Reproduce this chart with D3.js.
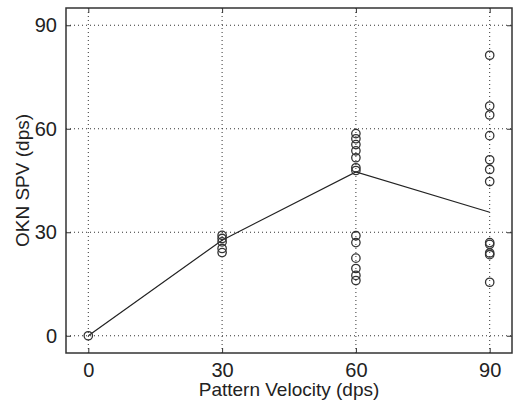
<!DOCTYPE html>
<html>
<head>
<meta charset="utf-8">
<script src="https://cdn.jsdelivr.net/npm/d3@7"></script>
<style>
  body { margin: 0; background: #fff; }
  text { font-family: "Liberation Sans", Arial, sans-serif; fill: #222; }
</style>
</head>
<body>
<svg id="chart" width="515" height="404"></svg>
<script>
// pattern velocity groups and measured OKN slow phase velocities
var velocities = [0, 30, 60, 90];
var spv0 = [0];
var spv30 = [29.1, 28.2, 27.2, 25.3, 24.1];
var spv60 = [58.6, 57.1, 55.4, 53.6, 51.6, 48.7, 47.9, 29, 27, 22.5, 19.5, 17.5, 16];
var spv90 = [81.3, 66.6, 64, 58, 51, 48.2, 44.7, 27, 26.5, 24, 23.5, 15.5];
var meanSpv = [0, 27.7, 47.5, 35.8];
var tickValues = [0, 30, 60, 90];

var svg = d3.select("#chart");
var margin = {left: 66, right: 3, top: 8, bottom: 51};
var w = 515 - margin.left - margin.right;
var h = 404 - margin.top - margin.bottom;

var g = svg.append("g").attr("transform", `translate(${margin.left},${margin.top})`);

var x = d3.scaleLinear().domain([-5, 95]).range([0, w]);
var y = d3.scaleLinear().domain([-5, 95]).range([h, 0]);

// dotted grid
g.selectAll(".vgrid").data(tickValues).join("line")
  .attr("class", "vgrid")
  .attr("x1", d => x(d)).attr("x2", d => x(d))
  .attr("y1", 0).attr("y2", h)
  .attr("stroke", "#333").attr("stroke-width", 1)
  .attr("stroke-dasharray", "1,3");
g.selectAll(".hgrid").data(tickValues).join("line")
  .attr("class", "hgrid")
  .attr("y1", d => y(d)).attr("y2", d => y(d))
  .attr("x1", 0).attr("x2", w)
  .attr("stroke", "#333").attr("stroke-width", 1)
  .attr("stroke-dasharray", "1,3");

// axes with inward ticks
var xAxis = g.append("g").attr("transform", `translate(0,${h})`)
  .call(d3.axisBottom(x).tickValues(tickValues).tickSize(-5).tickPadding(10));
var xTop = g.append("g")
  .call(d3.axisTop(x).tickValues(tickValues).tickSize(-5).tickFormat(""));
var yAxis = g.append("g")
  .call(d3.axisLeft(y).tickValues(tickValues).tickSize(-5).tickPadding(9));
var yRight = g.append("g").attr("transform", `translate(${w},0)`)
  .call(d3.axisRight(y).tickValues(tickValues).tickSize(-5).tickFormat(""));

[xAxis, xTop, yAxis, yRight].forEach(function(a) {
  a.select(".domain").remove();
  a.selectAll("line").attr("stroke", "#333");
  a.selectAll("text").style("font-size", "20px").attr("fill", "#222");
});

g.append("rect").attr("width", w).attr("height", h)
  .attr("fill", "none").attr("stroke", "#333").attr("stroke-width", 1.5);

// mean line
var line = d3.line().x((d, i) => x(velocities[i])).y(d => y(d));
g.append("path").datum(meanSpv).attr("d", line)
  .attr("fill", "none").attr("stroke", "#222").attr("stroke-width", 1.2);

// individual points
var points = [];
[spv0, spv30, spv60, spv90].forEach(function(arr, i) {
  arr.forEach(function(v) { points.push({x: velocities[i], y: v}); });
});
g.selectAll(".pt").data(points).join("circle")
  .attr("class", "pt")
  .attr("cx", d => x(d.x)).attr("cy", d => y(d.y)).attr("r", 4.2)
  .attr("fill", "none").attr("stroke", "#333").attr("stroke-width", 1.3);

// axis titles
svg.append("text").attr("x", margin.left + x(45)).attr("y", 396)
  .attr("text-anchor", "middle").style("font-size", "19px")
  .text("Pattern Velocity (dps)");
svg.append("text")
  .attr("transform", `translate(29,${margin.top + y(45)}) rotate(-90)`)
  .attr("text-anchor", "middle").style("font-size", "19px")
  .text("OKN SPV (dps)");
</script>
</body>
</html>
